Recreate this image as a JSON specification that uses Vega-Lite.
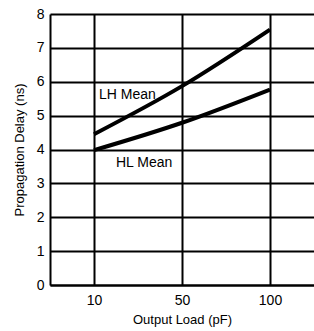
{
  "$schema": "https://vega.github.io/schema/vega-lite/v6.json",
  "width": 264,
  "height": 271,
  "autosize": {"type": "none"},
  "padding": {"left": 50, "top": 14, "right": 0, "bottom": 46},
  "background": "white",
  "config": {
    "view": {"stroke": null},
    "font": "Liberation Sans",
    "axis": {
      "grid": true, "gridColor": "#000", "gridWidth": 2, "gridOpacity": 1,
      "domainColor": "#000", "domainWidth": 2, "ticks": false,
      "labelFont": "Liberation Sans", "labelFontSize": 14, "labelColor": "#000",
      "titleFont": "Liberation Sans", "titleFontSize": 13, "titleFontWeight": "normal", "titleColor": "#000"
    }
  },
  "datasets": {
    "curves": [
      {"load": 10, "delay": 4.45, "series": "LH"},
      {"load": 50, "delay": 5.87, "series": "LH"},
      {"load": 100, "delay": 7.54, "series": "LH"},
      {"load": 10, "delay": 3.98, "series": "HL"},
      {"load": 50, "delay": 4.79, "series": "HL"},
      {"load": 100, "delay": 5.77, "series": "HL"}
    ],
    "lh": [{"load": 10, "delay": 5.6, "label": "LH Mean"}],
    "hl": [{"load": 10, "delay": 3.6, "label": "HL Mean"}]
  },
  "encoding": {
    "x": {"field": "load", "type": "ordinal", "scale": {"type": "point", "padding": 0.5, "domain": [10, 50, 100]},
          "axis": {"title": "Output Load (pF)", "labelAngle": 0, "labelPadding": 8, "titlePadding": 6}},
    "y": {"field": "delay", "type": "quantitative", "scale": {"domain": [0, 8], "nice": false},
          "axis": {"title": "Propagation Delay (ns)", "values": [0,1,2,3,4,5,6,7,8], "labelPadding": 6, "titlePadding": 10}}
  },
  "layer": [
    {
      "data": {"name": "curves"},
      "mark": {"type": "line", "color": "#000", "strokeWidth": 4, "interpolate": "monotone"},
      "encoding": {"detail": {"field": "series"}}
    },
    {
      "data": {"name": "lh"},
      "mark": {"type": "text", "align": "left", "baseline": "middle", "dx": 5, "fontSize": 14, "color": "#000"},
      "encoding": {"text": {"field": "label"}}
    },
    {
      "data": {"name": "hl"},
      "mark": {"type": "text", "align": "left", "baseline": "middle", "dx": 22, "fontSize": 14, "color": "#000"},
      "encoding": {"text": {"field": "label"}}
    }
  ]
}
